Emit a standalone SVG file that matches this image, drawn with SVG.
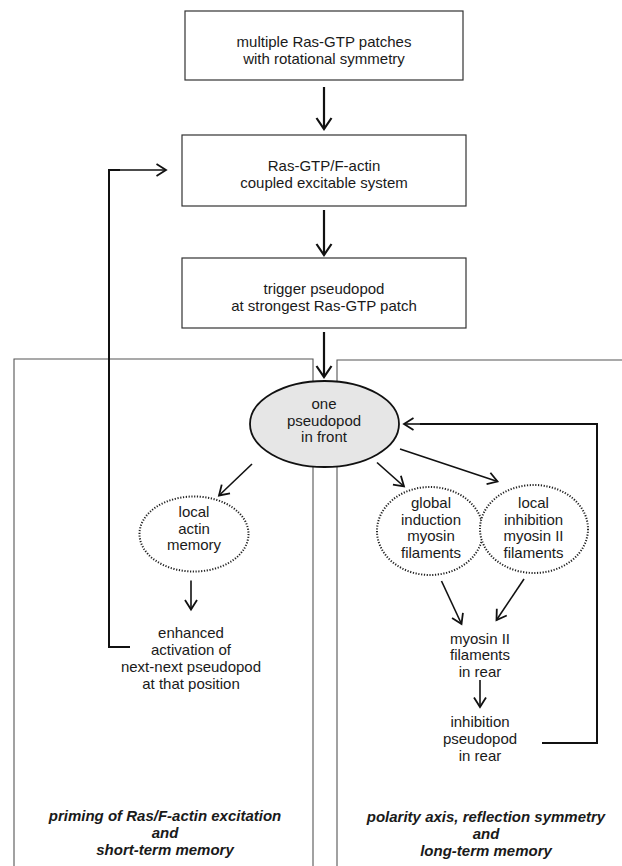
<svg xmlns="http://www.w3.org/2000/svg" width="622" height="866" viewBox="0 0 622 866">
<defs>
<marker id="ah" markerUnits="userSpaceOnUse" markerWidth="30" markerHeight="30" viewBox="-15 -15 30 30" refX="0" refY="0" orient="auto" overflow="visible">
<path d="M-11,-7.5 L0,0 L-11,7.5" fill="none" stroke="#111" stroke-width="2.2"/>
</marker>
<marker id="as" markerUnits="userSpaceOnUse" markerWidth="30" markerHeight="30" viewBox="-15 -15 30 30" refX="0" refY="0" orient="auto" overflow="visible">
<path d="M-9.5,-6 L0,0 L-9.5,6" fill="none" stroke="#111" stroke-width="1.8"/>
</marker>
</defs>
<style>
text{font-family:"Liberation Sans",Arial,sans-serif;font-size:15px;fill:#1a1a1a;text-anchor:middle}
.box{fill:#fff;stroke:#333;stroke-width:1.2}
.panel{fill:none;stroke:#555;stroke-width:1.1}
.dot{fill:#fff;stroke:#222;stroke-width:2;stroke-dasharray:1.2 1.6}
.thick{fill:none;stroke:#111;stroke-width:2.2;marker-end:url(#ah)}
.thin{fill:none;stroke:#111;stroke-width:1.6;marker-end:url(#as)}
.fb{fill:none;stroke:#111;stroke-width:2}
.it{font-weight:bold;font-style:italic}
</style>
<rect width="622" height="866" fill="#fff"/>
<g id="panels">
<polyline class="panel" points="14,866 14,359 313,359 313,866"/>
<polyline class="panel" points="622,360 337,360 337,866"/>
</g>
<g id="connectors">
<line class="thick" x1="324" y1="87" x2="324" y2="129"/>
<line class="thick" x1="324" y1="210" x2="324" y2="255"/>
<line class="thick" x1="324" y1="332" x2="324" y2="377"/>
<polyline class="fb" points="130,647 109,647 109,170 120,170"/>
<line class="thin" x1="109" y1="170" x2="166" y2="170"/>
<polyline class="fb" points="542,743 597,743 597,424 420,424"/>
<line class="thin" x1="430" y1="424" x2="404" y2="424"/>
<line class="thin" x1="252" y1="464" x2="219" y2="495.5"/>
<line class="thin" x1="377" y1="462.5" x2="404" y2="486.5"/>
<line class="thin" x1="400" y1="449" x2="497.5" y2="481.5"/>
<line class="thin" x1="191" y1="580.5" x2="191" y2="609.5"/>
<line class="thin" x1="441.5" y1="581" x2="461.5" y2="624"/>
<line class="thin" x1="524" y1="579" x2="496.5" y2="620"/>
<line class="thin" x1="480" y1="680" x2="480" y2="707"/>
</g>
<g id="n1">
<rect class="box" x="185" y="11" width="278" height="69"/>
<text x="324" y="47">multiple Ras-GTP patches</text>
<text x="324" y="63.5">with rotational symmetry</text>
</g>
<g id="n2">
<rect class="box" x="182" y="135" width="284" height="71"/>
<text x="324" y="171">Ras-GTP/F-actin</text>
<text x="324" y="188">coupled excitable system</text>
</g>
<g id="n3">
<rect class="box" x="182" y="258" width="284" height="70"/>
<text x="324" y="294">trigger pseudopod</text>
<text x="324" y="310.5">at strongest Ras-GTP patch</text>
</g>
<g id="n4">
<ellipse cx="324.5" cy="424" rx="74.5" ry="43" fill="#e6e6e6" stroke="#111" stroke-width="1.8"/>
<text x="324" y="409">one</text>
<text x="324" y="425.5">pseudopod</text>
<text x="324" y="442">in front</text>
</g>
<g id="n5">
<ellipse class="dot" cx="194" cy="534" rx="54.5" ry="37.5"/>
<text x="194" y="517">local</text>
<text x="194" y="533.5">actin</text>
<text x="194" y="550">memory</text>
</g>
<g id="n6">
<text x="191" y="638">enhanced</text>
<text x="191" y="654.5">activation of</text>
<text x="191" y="671.5">next-next pseudopod</text>
<text x="191" y="689">at that position</text>
</g>
<g id="n7">
<ellipse class="dot" cx="430" cy="531" rx="53" ry="44"/>
<text x="431" y="507.5">global</text>
<text x="431" y="524.5">induction</text>
<text x="431" y="541">myosin</text>
<text x="431" y="558">filaments</text>
</g>
<g id="n8">
<ellipse class="dot" cx="534" cy="529" rx="54" ry="44"/>
<text x="533.5" y="507.5">local</text>
<text x="533.5" y="524.5">inhibition</text>
<text x="533.5" y="541">myosin II</text>
<text x="533.5" y="558">filaments</text>
</g>
<g id="n9">
<text x="480" y="643.5">myosin II</text>
<text x="480" y="660">filaments</text>
<text x="480" y="677">in rear</text>
</g>
<g id="n10">
<text x="480" y="727">inhibition</text>
<text x="480" y="744">pseudopod</text>
<text x="480" y="760.5">in rear</text>
</g>
<g id="label-left">
<text class="it" x="165" y="820.5">priming of Ras/F-actin excitation</text>
<text class="it" x="165" y="837.5">and</text>
<text class="it" x="165" y="855">short-term memory</text>
</g>
<g id="label-right">
<text class="it" x="486" y="822">polarity axis, reflection symmetry</text>
<text class="it" x="486" y="839">and</text>
<text class="it" x="486" y="856">long-term memory</text>
</g>
</svg>
